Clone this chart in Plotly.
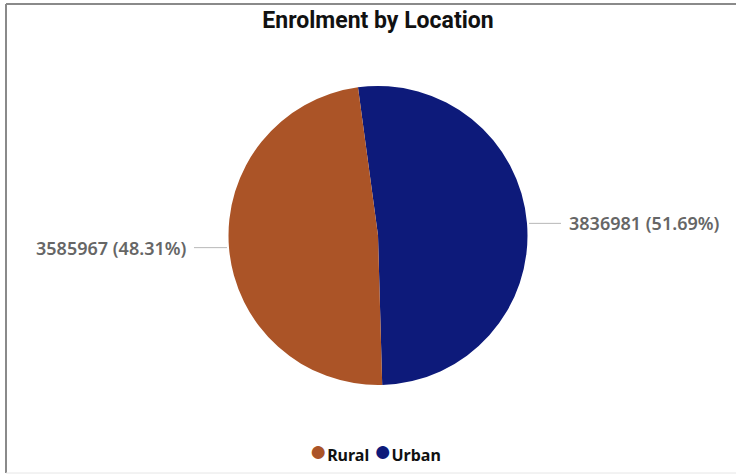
import math
import plotly.graph_objects as go

# chart data
locations = ['Urban', 'Rural']
enrolment = [3836981, 3585967]
colors = ['#0D1A7A', '#AB5427']
legend_order = ['Rural', 'Urban']

W, H = 736, 475
L, R, T, B = 80, 60, 86, 90
plot_w = W - L - R
plot_h = H - T - B
radius = min(plot_w, plot_h) / 2
start_deg = -7.7  # first slice starts a little left of 12 o'clock

fig = go.Figure()

fig.add_trace(go.Pie(
    labels=locations,
    values=enrolment,
    marker=dict(colors=colors, line=dict(width=0)),
    sort=False,
    direction='clockwise',
    rotation=start_deg,
    textinfo='none',
    showlegend=False,
    hoverinfo='label+value+percent',
    domain=dict(x=[0, 1], y=[0, 1]),
))

# outside labels with short leader lines, placed from the slice mid angles
total = sum(enrolment)
angle = start_deg
for val in enrolment:
    span = val / total * 360
    mid = math.radians(angle + span / 2)
    angle += span
    px = 0.5 + radius * math.sin(mid) / plot_w
    py = 0.5 + radius * math.cos(mid) / plot_h
    right = math.sin(mid) > 0
    fig.add_annotation(
        x=px, y=py, xref='paper', yref='paper',
        text=f"{val} ({val / total * 100:.2f}%)",
        showarrow=True, arrowhead=0, arrowwidth=1, arrowcolor='#b8b8b8',
        ax=34 if right else -35, ay=0, standoff=2, borderpad=7,
        xanchor='left' if right else 'right',
        font=dict(family='Noto Sans', size=18, color='#666666', weight=600),
    )

# legend row: round swatches + names
items = []
for name in legend_order:
    c = colors[locations.index(name)]
    items.append(f'<span style="color:{c};font-size:30px">●</span>{name}')
fig.add_annotation(
    x=(375 - L) / plot_w, y=-(449 - (H - B)) / plot_h, xref='paper', yref='paper',
    xanchor='center', yanchor='middle', showarrow=False,
    text=' '.join(items),
    font=dict(family='Noto Sans', size=16, color='#111111', weight=700),
)

# grey frame on the left, top and bottom edges
frame = dict(type='line', xref='paper', yref='paper', line=dict(color='#8a8a8a', width=2))
x_left = (6 - L) / plot_w
x_right = (W - L) / plot_w
y_top = 1 + (T - 4) / plot_h
y_bot = -(473 - (H - B)) / plot_h
fig.add_shape(x0=x_left, x1=x_right, y0=y_top, y1=y_top, **frame)
fig.add_shape(x0=x_left, x1=x_left, y0=y_top, y1=y_bot, **frame)
fig.add_shape(x0=x_left, x1=x_right, y0=y_bot, y1=y_bot,
              type='line', xref='paper', yref='paper', line=dict(color='#e6e6e6', width=1))

fig.update_layout(
    width=W, height=H,
    margin=dict(l=L, r=R, t=T, b=B, autoexpand=False),
    paper_bgcolor='white', plot_bgcolor='white',
    title=dict(text='<b>Enrolment by Location</b>', x=378 / W, xanchor='center',
               y=1 - 20 / H, yanchor='middle',
               font=dict(family='Roboto', size=23, color='#111111')),
    xaxis=dict(visible=False), yaxis=dict(visible=False),
    showlegend=False,
)

# drop the browser's default 8px page margin so the figure sits at the window corner
fig.write_html('out.html', config={'displayModeBar': False},
               post_script="document.body.style.margin='0';")
